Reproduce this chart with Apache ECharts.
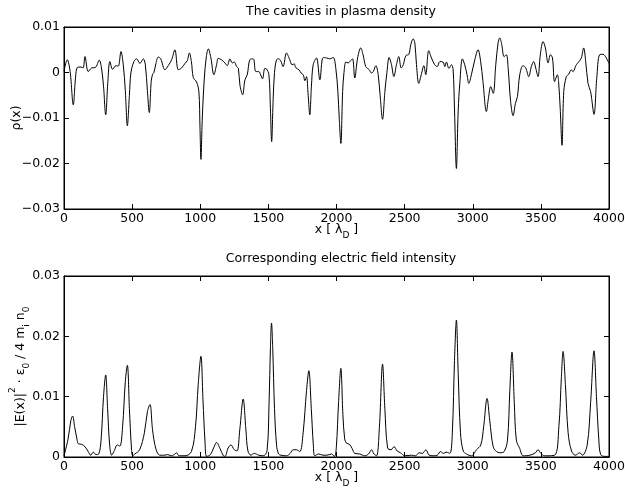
<!DOCTYPE html>
<html>
<head>
<meta charset="utf-8">
<script src="https://cdn.jsdelivr.net/npm/echarts@6/dist/echarts.min.js"></script>
<style>
html,body{margin:0;padding:0;background:#fff;}
#chart{width:625px;height:497px;}
</style>
</head>
<body>
<div id="chart"></div>
<script>
// ---- Data ----
var titleTop = 'The cavities in plasma density';
var titleBottom = 'Corresponding electric field intensity';
var xTicks = [0, 500, 1000, 1500, 2000, 2500, 3000, 3500, 4000];
var rhoTicks = [-0.03, -0.02, -0.01, 0, 0.01];
var fieldTicks = [0, 0.01, 0.02, 0.03];

var xRho = [0,24,45,68,85,98,125,140,154,178,203,230,259,275,290,306,322,337,357,381,398,418,435,450,465,480,491,513,533,557,582,597,612,626,640,650,660,675,692,710,741,765,790,814,839,863,888,905,920,935,949,973,990,998,1005,1015,1030,1045,1059,1078,1100,1120,1132,1156,1181,1198,1218,1235,1250,1267,1280,1291,1311,1328,1345,1364,1389,1408,1430,1443,1457,1474,1486,1504,1515,1524,1535,1545,1560,1575,1590,1608,1633,1657,1674,1690,1700,1724,1740,1756,1768,1780,1792,1804,1816,1829,1853,1878,1902,1927,1951,1976,1995,2010,2020,2032,2045,2055,2069,2085,2103,2118,2134,2155,2178,2195,2215,2240,2257,2270,2289,2306,2320,2338,2355,2370,2386,2403,2421,2440,2457,2475,2490,2509,2531,2545,2563,2575,2587,2604,2622,2641,2655,2677,2697,2721,2740,2758,2782,2795,2807,2825,2844,2856,2866,2880,2893,2906,2924,2941,2958,2971,2990,3015,3039,3058,3075,3100,3115,3132,3150,3169,3186,3198,3213,3230,3247,3260,3278,3296,3313,3328,3345,3369,3389,3411,3430,3447,3462,3479,3496,3516,3533,3553,3570,3585,3601,3621,3630,3642,3655,3668,3687,3704,3723,3735,3760,3780,3797,3814,3829,3846,3865,3890,3910,3931,3956,3980,4000];
var rho = [0.0003,0.0028,0.0002,-0.0071,-0.001,0.0011,0.0012,0.0010,0.0035,0.0002,0.0010,0.0011,0.0027,0.0010,-0.003,-0.0093,-0.002,0.0024,0.0007,0.0015,0.0014,0.0046,0.0017,-0.004,-0.0117,-0.005,-0.0001,0.0024,0.0030,0.0020,0.0030,0.0017,-0.004,-0.0088,-0.002,-0.0004,0.0,0.0020,0.0034,0.0030,0.0006,0.0015,0.0028,0.0050,0.0006,0.0010,0.0020,0.0026,0.0043,0.0024,-0.0011,-0.0021,-0.0042,-0.012,-0.0191,-0.010,-0.0012,0.0035,0.0052,0.0032,-0.0005,0.0017,0.0031,0.0028,0.0021,0.0015,0.0030,0.0021,0.0023,0.0013,0.0009,-0.0027,-0.0049,-0.0016,-0.0005,0.0028,0.0030,0.0002,0.0002,-0.0005,-0.0014,0.0009,0.0008,-0.0005,-0.008,-0.0152,-0.006,0.000,0.0028,0.0030,0.0026,0.0013,0.0043,0.0028,0.0017,0.0019,0.0011,0.0006,-0.0001,-0.0005,-0.0018,-0.0009,-0.005,-0.0093,-0.003,0.0017,0.0032,-0.0016,0.0033,0.0032,0.0030,0.0033,0.0009,-0.0042,-0.010,-0.0156,-0.0042,0.000,0.0023,0.0021,0.0026,0.0030,-0.0012,0.0032,0.0054,0.0039,0.0013,0.0006,-0.0001,0.0002,0.0015,-0.0005,-0.005,-0.0103,-0.0042,0.000,0.0033,0.0018,-0.0009,0.0017,0.0035,0.0010,0.0017,0.0037,0.0040,0.0061,0.0074,0.0065,0.0017,-0.0024,-0.0005,0.0015,-0.0005,0.0048,0.0032,0.0017,0.0013,0.0024,0.0023,0.0013,0.0023,0.0009,0.0017,0.0006,-0.008,-0.0211,-0.0085,-0.002,0.0030,0.0017,-0.0005,-0.0024,-0.0005,0.0028,0.0050,0.0024,-0.002,-0.0086,-0.0057,-0.0031,-0.0046,0.0017,0.0065,0.0076,0.0061,0.0035,0.0039,0.0009,-0.0064,-0.0095,-0.0068,-0.0053,-0.0005,0.0015,0.0010,-0.0009,0.0013,0.0024,0.0010,-0.0009,0.0039,0.0068,0.0054,0.0021,0.0039,0.0032,-0.0020,-0.0005,-0.0020,-0.008,-0.016,-0.0042,-0.0009,-0.0004,0.0006,0.0002,0.0017,0.0024,0.0032,0.0054,0.0024,-0.0024,-0.0042,-0.0092,-0.0013,0.0039,0.0040,0.0032,0.0020];

var xField = [0,30,50,63,78,95,105,130,154,178,196,215,235,255,272,290,306,320,335,350,370,391,410,430,450,465,480,495,504,520,555,590,612,631,650,675,704,740,758,790,815,826,845,888,935,965,985,1005,1020,1035,1047,1075,1098,1120,1145,1170,1181,1205,1225,1250,1270,1290,1315,1335,1350,1372,1396,1430,1462,1490,1505,1515,1523,1532,1545,1560,1575,1592,1633,1660,1682,1706,1731,1755,1780,1797,1815,1830,1841,1870,1900,1930,1963,1985,1999,2015,2032,2047,2060,2073,2095,2115,2134,2170,2208,2235,2257,2275,2294,2315,2338,2355,2375,2400,2423,2445,2470,2501,2550,2580,2607,2630,2656,2680,2709,2740,2763,2785,2805,2832,2850,2866,2880,2893,2910,2930,2954,2990,3027,3059,3080,3105,3125,3150,3175,3198,3230,3255,3272,3288,3305,3320,3345,3370,3420,3460,3479,3500,3528,3601,3632,3650,3663,3680,3700,3725,3753,3785,3805,3840,3865,3890,3908,3925,3939,3970,4000];
var field = [0.0002,0.0030,0.0060,0.0068,0.0050,0.0030,0.0022,0.0021,0.0017,0.0009,0.0003,0.0008,0.0004,0.0005,0.0028,0.0100,0.0136,0.0080,0.0020,0.0003,0.0011,0.0020,0.0018,0.0050,0.0125,0.0152,0.0080,0.0015,0.0002,0.0005,0.0012,0.0040,0.0075,0.0087,0.0045,0.0013,0.0003,0.0003,0.0004,0.0002,0.0005,0.0007,0.0002,0.0002,0.0009,0.0050,0.0120,0.0167,0.0095,0.0025,0.0001,0.0004,0.0015,0.0024,0.0014,0.0002,0.0001,0.0015,0.0020,0.0012,0.0010,0.0045,0.0096,0.0045,0.0010,0.0003,0.0006,0.0003,0.0002,0.0010,0.0090,0.0180,0.0222,0.0180,0.0080,0.0020,0.0005,0.0003,0.0002,0.0006,0.0012,0.0012,0.0009,0.0040,0.0110,0.0143,0.0080,0.0020,0.0002,0.0005,0.0003,0.0003,0.0005,0.0001,0.0017,0.0090,0.0147,0.0070,0.0030,0.0023,0.0021,0.0014,0.0006,0.0005,0.0002,0.0005,0.0012,0.0005,0.0002,0.0050,0.0154,0.0080,0.0015,0.0012,0.0017,0.0010,0.0007,0.0002,0.0003,0.0002,0.0007,0.0006,0.0012,0.0003,0.0002,0.0003,0.0009,0.0006,0.0008,0.0006,0.0040,0.0160,0.0227,0.0140,0.0040,0.0010,0.0005,0.0002,0.0012,0.0020,0.0050,0.0097,0.0060,0.0017,0.0009,0.0007,0.0009,0.0028,0.0110,0.0174,0.0090,0.0028,0.0014,0.0002,0.0003,0.0007,0.0012,0.0006,0.0002,0.0003,0.0050,0.0130,0.0175,0.0120,0.0040,0.0010,0.0003,0.0007,0.0003,0.0020,0.0090,0.0176,0.0100,0.0030,0.0004,0.0001,0.0001];

// ---- Chart ----
var FONT = '"DejaVu Sans", Verdana, sans-serif';
var FS = 12.5, FSS = 9;
function pairs(xs, ys) { return xs.map(function (x, i) { return [x, ys[i]]; }); }
function fmtY(v) {
  if (Math.abs(v) < 1e-12) return '0';
  return v.toFixed(2).replace('-', '\u2212');
}
function fmtX(v) { return String(Math.round(v)); }
var baseText = { fontFamily: FONT, fontSize: FS, color: '#000' };
var xRich = {
  n: { fontFamily: FONT, fontSize: FS, color: '#000', verticalAlign: 'top', padding: [2, 0, 0, 0] },
  sub: { fontFamily: FONT, fontSize: FSS, color: '#000', verticalAlign: 'top', padding: [10, 0, 0, 0] }
};
var yRich = {
  n: { fontFamily: FONT, fontSize: FS, color: '#000', verticalAlign: 'top', padding: [6, 0, 0, 0] },
  sub: { fontFamily: FONT, fontSize: FSS, color: '#000', verticalAlign: 'top', padding: [14, 0, 0, 0] },
  sup: { fontFamily: FONT, fontSize: FSS, color: '#000', verticalAlign: 'top', padding: [0, 0, 0, 0] }
};
var xName = '{n|x [ \u03bb}{sub|D}{n| ]}';
var rhoName = '{n|\u03c1(x)}';
var fieldName = '{n||E(x)|}{sup|2}{n| \u00b7 \u03b5}{sub|0}{n| / 4 m}{sub|i}{n| n}{sub|0}';

var axisLineStyle = { show: true, onZero: false, lineStyle: { color: '#000', width: 1 } };
var tickStyle = { show: true, inside: true, length: 5, lineStyle: { color: '#000', width: 1 } };

function xAxisMain(gridIndex) {
  return {
    type: 'value', gridIndex: gridIndex, position: 'bottom',
    min: xTicks[0], max: xTicks[xTicks.length - 1], interval: xTicks[1] - xTicks[0],
    axisLine: axisLineStyle, axisTick: tickStyle,
    axisLabel: { show: true, margin: 3, fontFamily: FONT, fontSize: FS, color: '#000', formatter: fmtX },
    splitLine: { show: false },
    name: xName, nameLocation: 'middle', nameGap: 12, nameMoveOverlap: false,
    nameTextStyle: { rich: xRich }
  };
}
function xAxisMirror(gridIndex) {
  return {
    type: 'value', gridIndex: gridIndex, position: 'top',
    min: xTicks[0], max: xTicks[xTicks.length - 1], interval: xTicks[1] - xTicks[0],
    axisLine: axisLineStyle, axisTick: tickStyle,
    axisLabel: { show: false }, splitLine: { show: false }
  };
}
function yAxisMain(gridIndex, ticks, name, gap) {
  return {
    type: 'value', gridIndex: gridIndex, position: 'left',
    min: ticks[0], max: ticks[ticks.length - 1], interval: 0.01,
    axisLine: axisLineStyle, axisTick: tickStyle,
    axisLabel: { show: true, margin: 4, fontFamily: FONT, fontSize: FS, color: '#000', formatter: fmtY },
    splitLine: { show: false },
    name: name, nameLocation: 'middle', nameRotate: 90, nameGap: gap, nameMoveOverlap: false,
    nameTextStyle: { rich: yRich }
  };
}
function yAxisMirror(gridIndex, ticks) {
  return {
    type: 'value', gridIndex: gridIndex, position: 'right',
    min: ticks[0], max: ticks[ticks.length - 1], interval: 0.01,
    axisLine: axisLineStyle, axisTick: tickStyle,
    axisLabel: { show: false }, splitLine: { show: false }
  };
}

var chart = echarts.init(document.getElementById('chart'), null, { renderer: 'canvas' });
chart.setOption({
  animation: false,
  backgroundColor: '#fff',
  textStyle: baseText,
  title: [
    { text: titleTop, left: 336, top: 0, textAlign: 'center',
      textStyle: { fontFamily: FONT, fontSize: FS, fontWeight: 'normal', color: '#000' } },
    { text: titleBottom, left: 336, top: 247, textAlign: 'center',
      textStyle: { fontFamily: FONT, fontSize: FS, fontWeight: 'normal', color: '#000' } }
  ],
  grid: [
    { left: 64, right: 16, top: 27, height: 182, show: true, borderColor: '#000', borderWidth: 1,
      backgroundColor: 'transparent', outerBoundsMode: 'none', containLabel: false },
    { left: 64, right: 16, top: 276, height: 181, show: true, borderColor: '#000', borderWidth: 1,
      backgroundColor: 'transparent', outerBoundsMode: 'none', containLabel: false }
  ],
  xAxis: [xAxisMain(0), xAxisMirror(0), xAxisMain(1), xAxisMirror(1)],
  yAxis: [
    yAxisMain(0, rhoTicks, rhoName, 41),
    yAxisMirror(0, rhoTicks),
    yAxisMain(1, fieldTicks, fieldName, 33),
    yAxisMirror(1, fieldTicks)
  ],
  series: [
    { type: 'line', xAxisIndex: 0, yAxisIndex: 0, data: pairs(xRho, rho),
      showSymbol: false, smooth: 0.35, lineStyle: { color: '#000', width: 1 }, clip: true },
    { type: 'line', xAxisIndex: 2, yAxisIndex: 2, data: pairs(xField, field),
      showSymbol: false, smooth: 0.35, lineStyle: { color: '#000', width: 1 }, clip: true },
    { type: 'line', xAxisIndex: 1, yAxisIndex: 1, data: [], showSymbol: false, silent: true },
    { type: 'line', xAxisIndex: 3, yAxisIndex: 3, data: [], showSymbol: false, silent: true }
  ]
});
</script>
</body>
</html>
